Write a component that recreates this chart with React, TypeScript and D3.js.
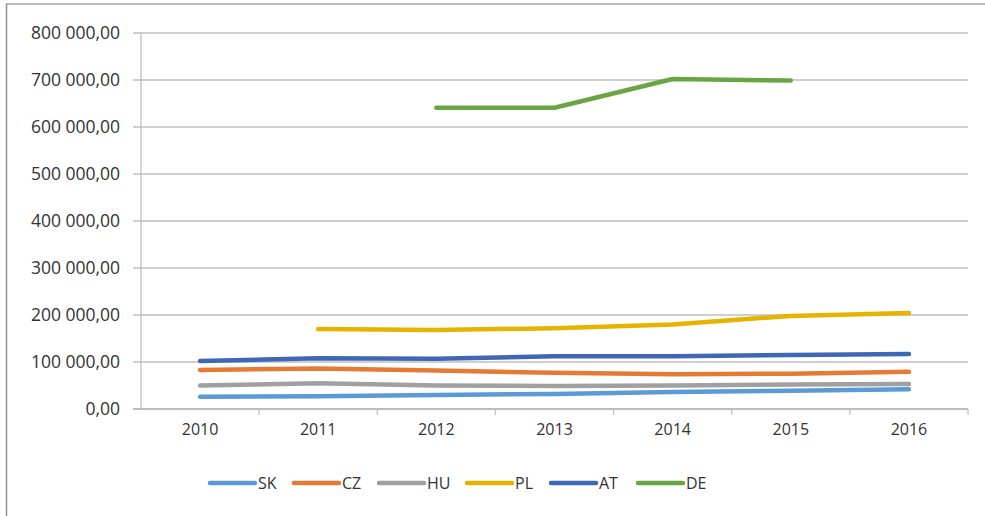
import React from "react";
import * as d3 from "d3";

const years = ["2010", "2011", "2012", "2013", "2014", "2015", "2016"];
const yTicks = [0, 100000, 200000, 300000, 400000, 500000, 600000, 700000, 800000];

const SK = [26000, 27000, 30000, 32000, 36000, 39000, 42000];
const CZ = [83000, 86000, 82000, 77000, 74000, 75000, 79000];
const HU = [50000, 55000, 50000, 49000, 50000, 52000, 53000];
const PL = [null, 170000, 168000, 172000, 180000, 198000, 204000];
const AT = [102000, 108000, 107000, 112000, 112000, 115000, 117000];
const DE = [null, null, 641000, 641000, 702000, 699000, null];

const seriesNames = ["SK", "CZ", "HU", "PL", "AT", "DE"];
const seriesValues = [SK, CZ, HU, PL, AT, DE];
const colors = ["#5B9BD5", "#E57A35", "#A0A0A0", "#E5B300", "#3F67B5", "#6AA544"];

const W = 985, H = 516;
const left = 141, right = 968, top = 33, bottom = 409;

export default function App() {
  const x = d3.scaleBand<string>().domain(years).range([left, right]);
  const y = d3.scaleLinear().domain([0, 800000]).range([bottom, top]);
  const fmt = (v: number) => {
    const s = d3.format(",.2f")(v);
    return s.replace(/,/g, " ").replace(".", ",");
  };
  const line = d3
    .line<number | null>()
    .defined((d) => d !== null)
    .x((_, i) => (x(years[i]) as number) + x.bandwidth() / 2)
    .y((d) => y(d as number));

  const legendX = [210, 294, 379, 467, 551, 638];
  const legendY = 483;
  const font = "'Open Sans', 'Noto Sans', sans-serif";

  return (
    <svg width={W} height={H} style={{ position: "absolute", left: 0, top: 0, background: "#fff" }}>
      <line x1={6} y1={4} x2={W} y2={4} stroke="#A0A0A0" strokeWidth={1.5} />
      <line x1={6.5} y1={4} x2={6.5} y2={H} stroke="#909090" strokeWidth={1.5} />
      {yTicks.map((t) => (
        <g key={t}>
          <line x1={left - 8} x2={right} y1={y(t)} y2={y(t)} stroke={t === 0 ? "#A6A6A6" : "#BFBFBF"} strokeWidth={1.3} />
          <text x={120} y={y(t)} dy="0.35em" textAnchor="end" fontFamily={font} fontSize={17.5} fill="#333">
            {fmt(t)}
          </text>
        </g>
      ))}
      <line x1={left} x2={left} y1={top} y2={bottom} stroke="#BFBFBF" strokeWidth={1.3} />
      {years.map((yr) => (
        <line key={"t" + yr} x1={(x(yr) as number) + x.bandwidth()} x2={(x(yr) as number) + x.bandwidth()} y1={bottom} y2={bottom + 6} stroke="#BFBFBF" strokeWidth={1.3} />
      ))}
      {years.map((yr) => (
        <text key={yr} x={(x(yr) as number) + x.bandwidth() / 2} y={bottom + 26} textAnchor="middle" fontFamily={font} fontSize={16} fill="#333">
          {yr}
        </text>
      ))}
      {seriesValues.map((vals, si) => (
        <path key={seriesNames[si]} d={line(vals) || ""} fill="none" stroke={colors[si]} strokeWidth={4.5} strokeLinecap="round" strokeLinejoin="round" />
      ))}
      {seriesNames.map((n, i) => (
        <g key={"l" + n}>
          <line x1={legendX[i]} x2={legendX[i] + 45} y1={legendY} y2={legendY} stroke={colors[i]} strokeWidth={4.5} strokeLinecap="round" />
          <text x={legendX[i] + 48} y={legendY} dy="0.35em" fontFamily={font} fontSize={16} fill="#333">
            {n}
          </text>
        </g>
      ))}
    </svg>
  );
}
